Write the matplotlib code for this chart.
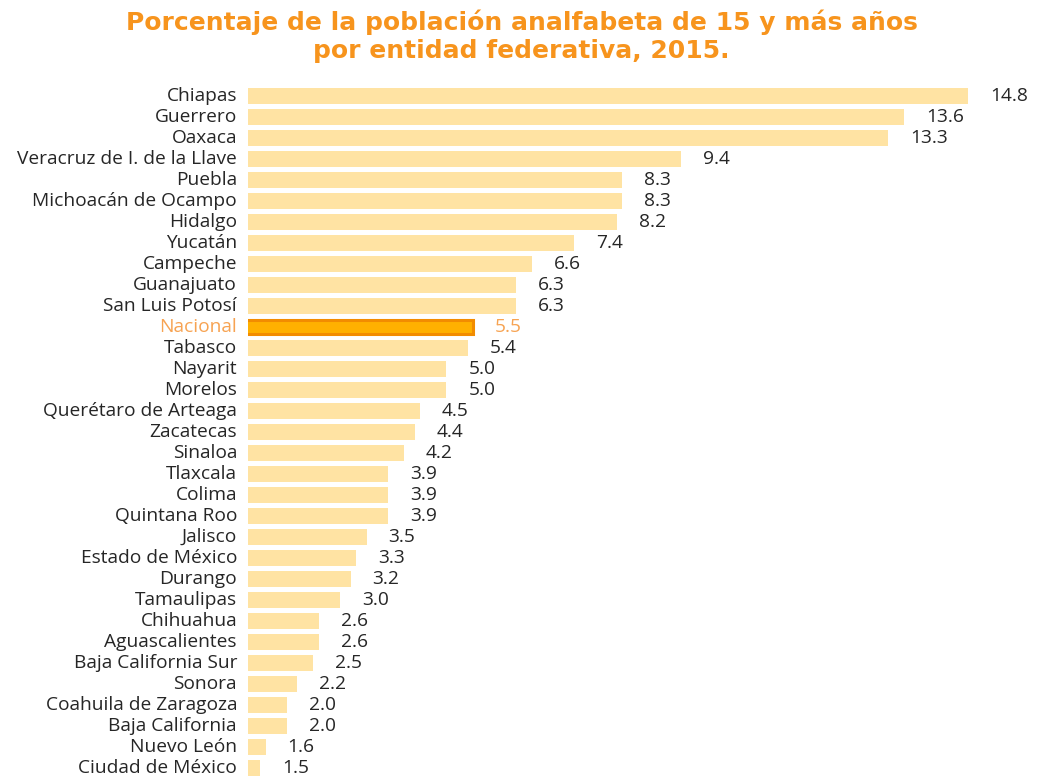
import matplotlib
matplotlib.use("Agg")
import matplotlib.pyplot as plt

entidades = ["Chiapas", "Guerrero", "Oaxaca", "Veracruz de I. de la Llave", "Puebla",
             "Michoacán de Ocampo", "Hidalgo", "Yucatán", "Campeche", "Guanajuato",
             "San Luis Potosí", "Nacional", "Tabasco", "Nayarit", "Morelos",
             "Querétaro de Arteaga", "Zacatecas", "Sinaloa", "Tlaxcala", "Colima",
             "Quintana Roo", "Jalisco", "Estado de México", "Durango", "Tamaulipas",
             "Chihuahua", "Aguascalientes", "Baja California Sur", "Sonora",
             "Coahuila de Zaragoza", "Baja California", "Nuevo León", "Ciudad de México"]
valores = [14.8, 13.6, 13.3, 9.4, 8.3, 8.3, 8.2, 7.4, 6.6, 6.3, 6.3, 5.5, 5.4, 5.0, 5.0,
           4.5, 4.4, 4.2, 3.9, 3.9, 3.9, 3.5, 3.3, 3.2, 3.0, 2.6, 2.6, 2.5, 2.2, 2.0,
           2.0, 1.6, 1.5]
titulo = "Porcentaje de la población analfabeta de 15 y más años\npor entidad federativa, 2015."

W, H = 1037, 779
fig = plt.figure(figsize=(W / 100, H / 100), dpi=100)
n = len(entidades)
row = 21.0
top_c = 96
left_px, right_px = 248, 1020
ax_top = top_c - row / 2
ax_bot = ax_top + row * n
ax = fig.add_axes([left_px / W, 1 - ax_bot / H, (right_px - left_px) / W, (ax_bot - ax_top) / H])

x0 = 1.27
scale = 53.2
ax.set_xlim(x0, x0 + (right_px - left_px) / scale)
ax.set_ylim(n - 0.5, -0.5)

normal = "#FFE3A3"
text_c = "#262626"
nac_c = "#F7A352"
for i, (e, v) in enumerate(zip(entidades, valores)):
    if e == "Nacional":
        ax.barh(i, v, height=0.68, color="#FFB000", edgecolor="#F28C00", linewidth=2.2)
        col = nac_c
    else:
        ax.barh(i, v, height=0.72, color=normal, edgecolor="none")
        col = text_c
    ax.text(v + 22 / scale, i, f"{v:.1f}", va="center", ha="left",
            fontsize=13.8, color=col, family="Open Sans")
    ax.text(-11 / (right_px - left_px), i, e, transform=ax.get_yaxis_transform(),
            va="center", ha="right", fontsize=13.8, color=col, family="Open Sans")

ax.axis("off")

fig.text(0.503, 1 - 36.5 / H, titulo, ha="center", va="center", fontsize=18,
         fontweight="bold", color="#F7941D", family="DejaVu Sans", linespacing=1.2)

fig.savefig("out.png", dpi=100)
